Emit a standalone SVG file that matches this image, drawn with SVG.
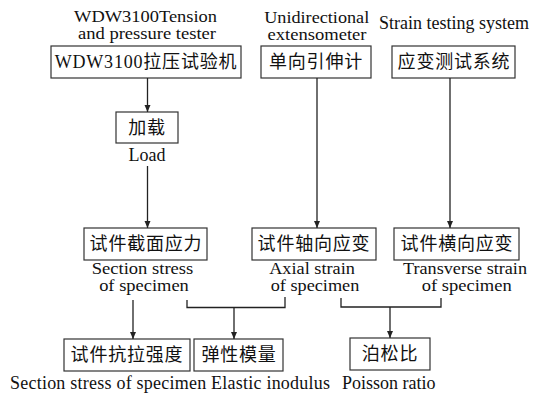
<svg xmlns="http://www.w3.org/2000/svg" width="536" height="394" viewBox="0 0 536 394">
<style>
.box{fill:#fff;stroke:#333;stroke-width:1.2}
.bt{font-family:"Liberation Serif","Noto Sans CJK SC",serif;font-size:18px;fill:#111;text-anchor:middle;letter-spacing:0.8px}
.lb{font-family:"Liberation Serif","Noto Sans CJK SC",serif;font-size:18px;fill:#111;text-anchor:middle}
.l2{font-family:"Liberation Serif",serif;font-size:16px;fill:#111;text-anchor:middle}
.ln{fill:none;stroke:#222;stroke-width:1.3}
</style>
<defs>
<marker id="ah" markerWidth="8" markerHeight="8" refX="7" refY="4" orient="auto" markerUnits="userSpaceOnUse">
<path d="M0,1 L7,4 L0,7 Z" fill="#222"/>
</marker>
</defs>
<rect width="536" height="394" fill="#fff"/>
<g id="labels-top">
<text class="l2" x="145.5" y="22" textLength="143" lengthAdjust="spacingAndGlyphs">WDW3100Tension</text>
<text class="l2" x="147" y="38.5" textLength="138" lengthAdjust="spacingAndGlyphs">and pressure tester</text>
<text class="l2" x="316.7" y="23" textLength="105" lengthAdjust="spacingAndGlyphs">Unidirectional</text>
<text class="l2" x="317" y="39.5" textLength="99" lengthAdjust="spacingAndGlyphs">extensometer</text>
<text class="lb" x="454" y="29">Strain testing system</text>
</g>
<g id="n-tester"><rect class="box" x="51" y="46" width="190" height="32"/><text class="bt" x="146" y="68">WDW3100拉压试验机</text></g>
<g id="n-ext"><rect class="box" x="261" y="46" width="110" height="32"/><text class="bt" x="316" y="68">单向引伸计</text></g>
<g id="n-sys"><rect class="box" x="392" y="46" width="123" height="32"/><text class="bt" x="454" y="68">应变测试系统</text></g>
<g id="n-load"><rect class="box" x="116" y="112" width="62" height="31"/><text class="bt" x="147" y="134">加载</text><text class="lb" x="147" y="161">Load</text></g>
<g id="n-stress"><rect class="box" x="84" y="228" width="123" height="32"/><text class="bt" x="146" y="250">试件截面应力</text>
<text class="l2" x="142.5" y="274" textLength="101.6" lengthAdjust="spacingAndGlyphs">Section stress</text>
<text class="l2" x="144" y="290.5" textLength="89.7" lengthAdjust="spacingAndGlyphs">of specimen</text></g>
<g id="n-axial"><rect class="box" x="252" y="228" width="124" height="32"/><text class="bt" x="314" y="250">试件轴向应变</text>
<text class="l2" x="312" y="274" textLength="85.7" lengthAdjust="spacingAndGlyphs">Axial strain</text>
<text class="l2" x="315" y="290.5" textLength="88.6" lengthAdjust="spacingAndGlyphs">of specimen</text></g>
<g id="n-trans"><rect class="box" x="394" y="228" width="125" height="32"/><text class="bt" x="457" y="250">试件横向应变</text>
<text class="l2" x="465" y="274" textLength="124" lengthAdjust="spacingAndGlyphs">Transverse strain</text>
<text class="l2" x="466.7" y="290.5" textLength="90" lengthAdjust="spacingAndGlyphs">of specimen</text></g>
<g id="n-strength"><rect class="box" x="64" y="339" width="126" height="32"/><text class="bt" x="127" y="361">试件抗拉强度</text></g>
<g id="n-modulus"><rect class="box" x="194" y="339" width="89" height="32"/><text class="bt" x="239" y="361">弹性模量</text></g>
<g id="n-poisson"><rect class="box" x="350" y="338" width="80" height="32"/><text class="bt" x="390" y="360">泊松比</text></g>
<g id="labels-bottom">
<text class="lb" x="10" y="389" style="text-anchor:start" textLength="320" lengthAdjust="spacing">Section stress of specimen Elastic inodulus</text>
<text class="lb" x="342" y="389" style="text-anchor:start">Poisson ratio</text>
</g>
<g id="connectors">
<path class="ln" d="M147.5,78 V112" marker-end="url(#ah)"/>
<path class="ln" d="M147.5,166 V228" marker-end="url(#ah)"/>
<path class="ln" d="M317,78 V228" marker-end="url(#ah)"/>
<path class="ln" d="M450,78 V228" marker-end="url(#ah)"/>
<path class="ln" d="M133,300 V339" marker-end="url(#ah)"/>
<path class="ln" d="M187,300 V307.5 H285 V297"/>
<path class="ln" d="M234,307.5 V339" marker-end="url(#ah)"/>
<path class="ln" d="M341,298 V307 H441 V298"/>
<path class="ln" d="M390,307 V338" marker-end="url(#ah)"/>
</g>
</svg>
